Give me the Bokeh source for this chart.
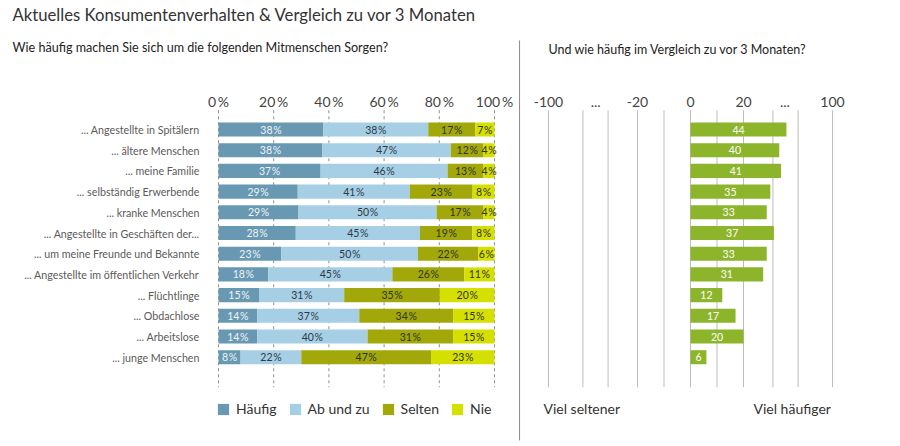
import numpy as np
from bokeh.plotting import figure
from bokeh.models import ColumnDataSource, Range1d, Label
from bokeh.embed import file_html
from bokeh.resources import INLINE
from bokeh.core.properties import value

# ---------------- data ----------------
categories = [
    "... Angestellte in Spitälern",
    "... ältere Menschen",
    "... meine Familie",
    "... selbständig Erwerbende",
    "... kranke Menschen",
    "... Angestellte in Geschäften der...",
    "... um meine Freunde und Bekannte",
    "... Angestellte im öffentlichen Verkehr",
    "... Flüchtlinge",
    "... Obdachlose",
    "... Arbeitslose",
    "... junge Menschen",
]
haeufig = [38, 38, 37, 29, 29, 28, 23, 18, 15, 14, 14, 8]
ab_und_zu = [38, 47, 46, 41, 50, 45, 50, 45, 31, 37, 40, 22]
selten = [17, 12, 13, 23, 17, 19, 22, 26, 35, 34, 31, 47]
nie = [7, 4, 4, 8, 4, 8, 6, 11, 20, 15, 15, 23]
series_names = ["Häufig", "Ab und zu", "Selten", "Nie"]
vergleich = [44, 40, 41, 35, 33, 37, 33, 31, 12, 17, 20, 6]

left_ticks = [0, 20, 40, 60, 80, 100]
left_tick_labels = ["0\u2009%", "20\u2009%", "40\u2009%", "60\u2009%", "80\u2009%", "100\u2009%"]

# broken scale of the right panel (value -> axis position)
scale_values = [-100, -44, -20, 20, 44, 100]
scale_axis = [-53.6, -36.2, -20, 20, 36.2, 53.6]
right_tick_pos = [-53.6, -35.8, -20, 0, 20, 35.6, 53.6]
right_tick_labels = ["-100", "...", "-20", "0", "20", "...", "100"]
right_grid_pos = [-53.6, -40.6, -31.1, -20, -10, 0, 10, 20, 31.1, 40.6, 53.6]

TITLE = "Aktuelles Konsumentenverhalten & Vergleich zu vor 3 Monaten"
SUB_LEFT = "Wie häufig machen Sie sich um die folgenden Mitmenschen Sorgen?"
SUB_RIGHT = "Und wie häufig im Vergleich zu vor 3 Monaten?"

# ---------------- style ----------------
FONT = "Lato"
colors = ["#6898B2", "#A6CFE5", "#A3A80A", "#D6E000"]
label_colors = ["#eef4f8", "#2d3a44", "#2d3320", "#2d3320"]
GREEN = "#8DB52B"
W, H = 900, 446
n = len(categories)
ys = list(range(n))
BAR_H = 0.68
TICK_Y = -1.35       # row units: position of the tick-label line
GRID_TOP, GRID_BOT = -0.93, 12.45

# ---------------- figure (frame = whole canvas) ----------------
p = figure(width=W, height=H,
           x_range=Range1d(-78.986, 247.101),          # left panel: percent
           y_range=Range1d(15.314, -6.232),            # rows, top to bottom
           output_backend="svg", toolbar_location=None,
           x_axis_location=None, y_axis_location=None, min_border=0,
           outline_line_color=None, background_fill_color="white", border_fill_color="white")
p.extra_x_ranges = {"right": Range1d(-260.377, 79.245)}  # right panel: change index
for g in p.grid:
    g.visible = False

# ---- left panel: grid, stacked bars, labels
p.segment(x0=left_ticks, y0=[GRID_TOP] * len(left_ticks), x1=left_ticks, y1=[GRID_BOT] * len(left_ticks),
          line_color="#8f8f8f", line_width=1, line_dash="3 3")

arr = np.array([haeufig, ab_und_zu, selten, nie], dtype=float)
share = arr / arr.sum(axis=0) * 100.0          # 100 % stacked
stackers = ["haeufig", "ab_und_zu", "selten", "nie"]
src = ColumnDataSource(dict(y=ys, **{k: list(share[i]) for i, k in enumerate(stackers)}))
p.hbar_stack(stackers, y="y", height=BAR_H, color=colors, line_color=None, source=src,
             legend_label=series_names)

starts = np.vstack([np.zeros(n), np.cumsum(share, axis=0)[:-1]])
centers = starts + share / 2
for k in range(4):
    p.text(x=list(centers[k]), y=ys, text=[f"{int(v)}\u200a%" for v in arr[k]],
           text_align="center", text_baseline="middle", text_font=value(FONT),
           text_font_size="10.5px", text_color=label_colors[k])

p.text(x=left_ticks, y=[TICK_Y] * len(left_ticks), text=left_tick_labels,
       text_align="center", text_baseline="middle", text_font=value(FONT),
       text_font_size="14px", text_color="#444444")

p.text(x=[-6.9] * n, y=ys, text=categories, text_align="right", text_baseline="middle",
       text_font=value(FONT), text_font_size="10.7px", text_color="#5a5a5a")

# ---- right panel
p.segment(x0=right_grid_pos, y0=[GRID_TOP] * len(right_grid_pos), x1=right_grid_pos,
          y1=[GRID_BOT] * len(right_grid_pos), line_color="#bdbdbd", line_width=1,
          x_range_name="right")

bar_end = np.interp(vergleich, scale_values, scale_axis)
rsrc = ColumnDataSource(dict(y=ys, right=list(bar_end), mid=list(bar_end / 2),
                             lab=[str(v) for v in vergleich]))
p.hbar(y="y", left=0, right="right", height=BAR_H, color=GREEN, line_color=None, source=rsrc,
       x_range_name="right")
p.text(x="mid", y="y", text="lab", source=rsrc, text_align="center", text_baseline="middle",
       text_font=value(FONT), text_font_size="10.5px", text_color="white", x_range_name="right")

p.text(x=right_tick_pos, y=[TICK_Y] * len(right_tick_pos), text=right_tick_labels,
       text_align="center", text_baseline="middle", text_font=value(FONT),
       text_font_size="14px", text_color="#444444", x_range_name="right")

# ---- separator between the panels
p.segment(x0=[-64.5], y0=[-4.3], x1=[-64.5], y1=[15.02], line_color="#8a8a8a", line_width=1,
          x_range_name="right")

# ---- legend
lg = p.legend[0]
lg.location = (216, 29)
lg.orientation = "horizontal"
lg.padding = 0
lg.margin = 0
lg.spacing = 11
lg.label_standoff = 6
lg.glyph_width = 14
lg.glyph_height = 14
lg.label_height = 14
lg.label_text_font = FONT
lg.label_text_font_size = "14px"
lg.label_text_color = "#333333"
lg.border_line_color = None
lg.background_fill_alpha = 0

# ---- titles and captions (screen units: from left / bottom of canvas)
def add_text(x, y_from_top, text, size, color):
    p.add_layout(Label(x=x, y=H - y_from_top, x_units="screen", y_units="screen", text=text,
                       text_font=FONT, text_font_size=size, text_color=color,
                       text_baseline="middle"))

add_text(12, 14, TITLE, "16.7px", "#333333")
add_text(12, 47, SUB_LEFT, "12.6px", "#222222")
add_text(548, 49, SUB_RIGHT, "12.5px", "#222222")
add_text(543, 408, "Viel seltener", "14px", "#333333")
add_text(753, 408, "Viel häufiger", "14px", "#333333")

open("out.html", "w").write(file_html(p, INLINE))
